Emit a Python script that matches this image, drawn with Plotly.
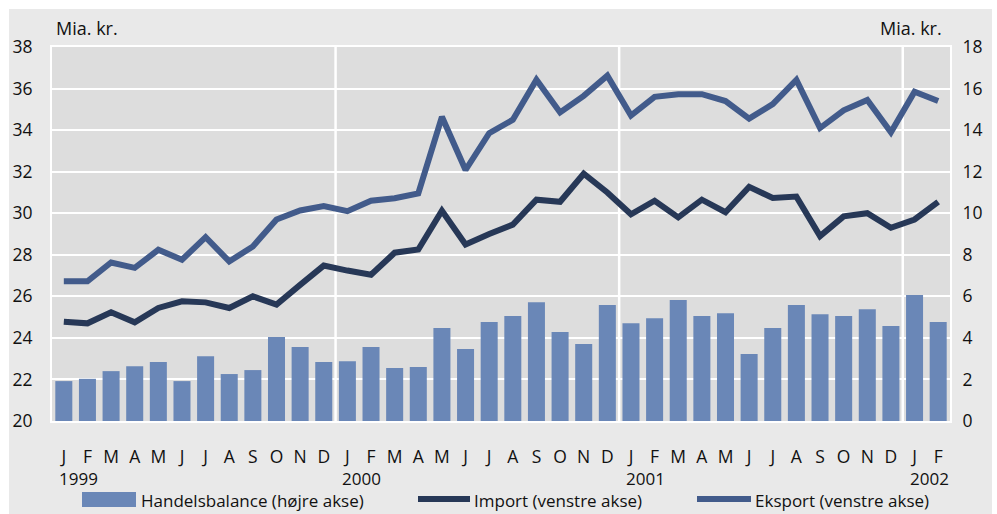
import plotly.graph_objects as go

months = ["J","F","M","A","M","J","J","A","S","O","N","D"] * 3 + ["J","F"]
years = ["1999", "2000", "2001", "2002"]
year_start_idx = [0, 12, 24, 36]

handelsbalance = [1.92, 2.03, 2.40, 2.64, 2.84, 1.92, 3.12, 2.26, 2.45, 4.04, 3.56, 2.84,
                  2.88, 3.56, 2.55, 2.60, 4.47, 3.46, 4.76, 5.05, 5.72, 4.28, 3.70, 5.58,
                  4.71, 4.95, 5.82, 5.05, 5.19, 3.22, 4.47, 5.58, 5.14, 5.05, 5.38, 4.57,
                  6.06, 4.76]
importv = [24.78, 24.70, 25.23, 24.75, 25.44, 25.76, 25.71, 25.44, 26.00, 25.60, 26.55, 27.48,
           27.24, 27.04, 28.10, 28.25, 30.12, 28.50, 29.00, 29.45, 30.65, 30.55, 31.90, 31.00,
           29.95, 30.60, 29.80, 30.65, 30.05, 31.27, 30.73, 30.80, 28.90, 29.85, 30.00, 29.30,
           29.70, 30.55]
eksport = [26.72, 26.72, 27.63, 27.37, 28.24, 27.76, 28.85, 27.68, 28.40, 29.70, 30.13, 30.35,
           30.10, 30.60, 30.72, 30.95, 34.64, 32.08, 33.85, 34.50, 36.42, 34.85, 35.65, 36.62,
           34.70, 35.60, 35.73, 35.73, 35.40, 34.55, 35.25, 36.42, 34.10, 34.95, 35.45, 33.90,
           35.85, 35.40]
series_names = ["Handelsbalance (højre akse)", "Import (venstre akse)", "Eksport (venstre akse)"]

x = list(range(len(months)))

BAR = "#6a87b7"
IMP = "#273857"
EKS = "#425b8b"
TXT = "#111111"
FONT = "Open Sans"

fig = go.Figure()
fig.add_trace(go.Bar(x=x, y=handelsbalance, name=series_names[0],
                     marker=dict(color=BAR, line=dict(width=0)), yaxis="y2"))
fig.add_trace(go.Scatter(x=x, y=importv, name=series_names[1], mode="lines",
                         line=dict(color=IMP, width=6), yaxis="y"))
fig.add_trace(go.Scatter(x=x, y=eksport, name=series_names[2], mode="lines",
                         line=dict(color=EKS, width=6), yaxis="y"))

W, H = 997, 514
L, R, T, B = 52, 47, 47, 93
pw, ph = W - L - R, H - T - B

def px_x(p):
    return (p - L) / pw

def px_y(p):
    return (H - B - p) / ph

shapes = [
    dict(type="rect", xref="paper", yref="paper", x0=px_x(9), x1=px_x(992),
         y0=px_y(520), y1=px_y(9), fillcolor="#e9e9e9", line=dict(width=0), layer="below"),
    dict(type="rect", xref="paper", yref="paper", x0=0, x1=1, y0=0, y1=1,
         fillcolor="#dddddd", line=dict(width=0), layer="below"),
]
for s in year_start_idx[1:]:
    shapes.append(dict(type="line", xref="x", yref="paper", x0=s - 0.5, x1=s - 0.5,
                       y0=0, y1=1, line=dict(color="white", width=2.5), layer="below"))

# legend (drawn manually to match the reference symbols)
LEG_Y = 500
shapes.append(dict(type="rect", xref="paper", yref="paper", x0=px_x(82), x1=px_x(136),
                   y0=px_y(507), y1=px_y(492), fillcolor=BAR, line=dict(width=0)))
shapes.append(dict(type="line", xref="paper", yref="paper", x0=px_x(418), x1=px_x(470),
                   y0=px_y(499), y1=px_y(499), line=dict(color=IMP, width=6)))
shapes.append(dict(type="line", xref="paper", yref="paper", x0=px_x(697), x1=px_x(751),
                   y0=px_y(499), y1=px_y(499), line=dict(color=EKS, width=6)))

annotations = [
    dict(text="Mia. kr.", xref="paper", yref="paper", x=px_x(54), y=px_y(28),
         xanchor="left", yanchor="middle", showarrow=False, font=dict(size=18, color=TXT, family=FONT)),
    dict(text="Mia. kr.", xref="paper", yref="paper", x=px_x(944), y=px_y(28),
         xanchor="right", yanchor="middle", showarrow=False, font=dict(size=18, color=TXT, family=FONT)),
]
for yr, s in zip(years, year_start_idx):
    annotations.append(dict(text=yr, xref="x", yref="paper", x=s - 0.25, y=px_y(478),
                            xanchor="left", yanchor="middle", showarrow=False, borderpad=0,
                            font=dict(size=17, color=TXT, family=FONT)))
for name, lx in zip(series_names, [140, 473, 754]):
    annotations.append(dict(text=name, xref="paper", yref="paper", x=px_x(lx), y=px_y(LEG_Y),
                            xanchor="left", yanchor="middle", showarrow=False, borderpad=0,
                            font=dict(size=17, color=TXT, family=FONT)))

fig.update_layout(
    width=W, height=H,
    margin=dict(l=L, r=R, t=T, b=B),
    paper_bgcolor="white",
    plot_bgcolor="rgba(0,0,0,0)",
    font=dict(family=FONT, size=17, color=TXT),
    bargap=0.28,
    showlegend=False,
    shapes=shapes,
    annotations=annotations,
    xaxis=dict(range=[-0.5, 37.5], tickmode="array", tickvals=x, ticktext=months,
               showgrid=False, zeroline=False, ticks="outside", ticklen=19,
               tickcolor="rgba(0,0,0,0)", showline=True, linecolor="white", linewidth=2,
               mirror=True, tickfont=dict(size=17.5), fixedrange=True, automargin=False),
    yaxis=dict(range=[20, 38], dtick=2, tick0=20, showgrid=True, gridcolor="white",
               gridwidth=2, zeroline=False, ticks="outside", ticklen=14,
               tickcolor="rgba(0,0,0,0)", showline=True, linecolor="white", linewidth=2,
               mirror=True, tickfont=dict(size=17.5), automargin=False),
    yaxis2=dict(range=[0, 18], dtick=2, tick0=0, overlaying="y", side="right",
                showgrid=False, zeroline=False, ticks="outside", ticklen=8,
                tickcolor="rgba(0,0,0,0)", tickfont=dict(size=17.5), automargin=False),
)

fig.write_html("out.html", config={"displayModeBar": False},
               post_script="document.body.style.margin='0';document.body.style.overflow='hidden';")
